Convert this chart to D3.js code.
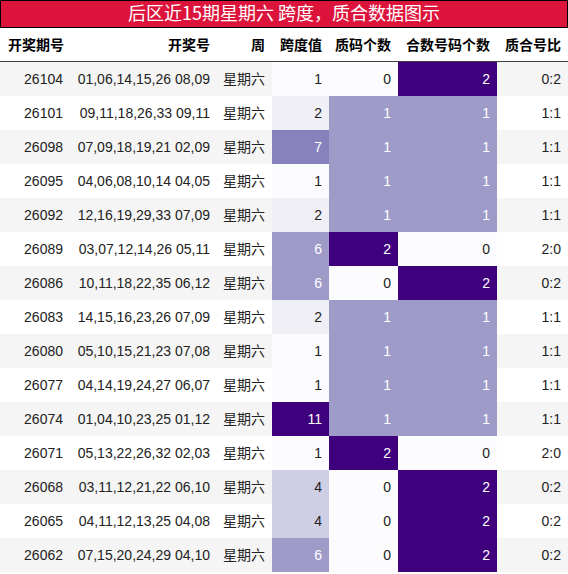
<!DOCTYPE html>
<html><head><meta charset="utf-8">
<script src="https://cdn.jsdelivr.net/npm/d3@7"></script>
<style>body{margin:0;background:#fff}</style>
</head><body><div id="chart"></div>
<script>
var issues = ["26104","26101","26098","26095","26092","26089","26086","26083","26080","26077","26074","26071","26068","26065","26062"];
var draws = ["01,06,14,15,26 08,09","09,11,18,26,33 09,11","07,09,18,19,21 02,09","04,06,08,10,14 04,05","12,16,19,29,33 07,09","03,07,12,14,26 05,11","10,11,18,22,35 06,12","14,15,16,23,26 07,09","05,10,15,21,23 07,08","04,14,19,24,27 06,07","01,04,10,23,25 01,12","05,13,22,26,32 02,03","03,11,12,21,22 06,10","04,11,12,13,25 04,08","07,15,20,24,29 04,10"];
var spans = [1,2,7,1,2,6,6,2,1,1,11,1,4,4,6];
var primes = [0,1,1,1,1,2,0,1,1,1,1,2,0,0,0];
var comps = [2,1,1,1,1,0,2,1,1,1,1,0,2,2,2];
var headers = ["开奖期号","开奖号","周","跨度值","质码个数","合数号码个数","质合号比"];
var title = "后区近15期星期六 跨度，质合数据图示";

var W = 568, H = 574, titleH = 28, headH = 34, rowH = 34;
var edges = [0,70,217,272,329,398,497,568];
var font = "'Liberation Sans','Noto Sans CJK SC',sans-serif";

var svg = d3.select("#chart").append("svg").attr("width", W).attr("height", H);

svg.append("rect").attr("x",0.5).attr("y",0.5).attr("width",W-1).attr("height",titleH-1)
    .attr("fill","#dc143c").attr("stroke","#000");
svg.append("text").attr("x",W/2).attr("y",titleH/2+1).attr("text-anchor","middle")
    .attr("dominant-baseline","middle").attr("fill","#fff")
    .style("font-family","'Noto Sans CJK SC',sans-serif").style("font-size","18px").text(title);

svg.selectAll(".hd").data(headers).enter().append("text")
    .attr("x",function(d,i){ return i==0 ? 8 : edges[i+1]-7; })
    .attr("text-anchor",function(d,i){ return i==0 ? "start" : "end"; })
    .attr("y",titleH+headH/2+1).attr("dominant-baseline","middle")
    .style("font-family","'Noto Sans CJK SC',sans-serif").style("font-weight","bold").style("font-size","14px")
    .text(function(d){ return d; });
svg.append("line").attr("x1",0).attr("x2",W).attr("y1",titleH+headH).attr("y2",titleH+headH)
    .attr("stroke","#000").attr("stroke-width",1.5);

var y = d3.scaleBand().domain(issues).range([titleH+headH, titleH+headH+rowH*issues.length]);
var spanC = d3.scaleSequential(d3.interpolatePurples).domain([1,11]);
var cntC = d3.scaleSequential(d3.interpolatePurples).domain([0,2]);

var rows = svg.selectAll(".row").data(issues).enter().append("g")
    .attr("transform",function(d){ return "translate(0,"+y(d)+")"; });
rows.append("rect").attr("width",W).attr("height",rowH)
    .attr("fill",function(d,i){ return i%2==0 ? "#f5f5f5" : "#fff"; });

function cells(i){
  return [
    {t:issues[i]},{t:draws[i]},{t:"星期六",cjk:true},
    {t:spans[i],c:spanC(spans[i]),dark:(spans[i]-1)/10>=0.5},
    {t:primes[i],c:cntC(primes[i]),dark:primes[i]>=1},
    {t:comps[i],c:cntC(comps[i]),dark:comps[i]>=1},
    {t:primes[i]+":"+comps[i]}
  ];
}
rows.each(function(d,i){
  var g = d3.select(this);
  cells(i).forEach(function(c,j){
    if (c.c) g.append("rect").attr("x",edges[j]).attr("width",edges[j+1]-edges[j]).attr("height",rowH).attr("fill",c.c);
    g.append("text").attr("x",edges[j+1]-7).attr("y",rowH/2+1).attr("text-anchor","end")
      .attr("dominant-baseline","middle").attr("fill",c.dark ? "#fff" : "#222")
      .style("font-family",c.cjk ? "'Noto Sans CJK SC',sans-serif" : font).style("font-size","14px")
      .text(c.t);
  });
});
</script></body></html>
